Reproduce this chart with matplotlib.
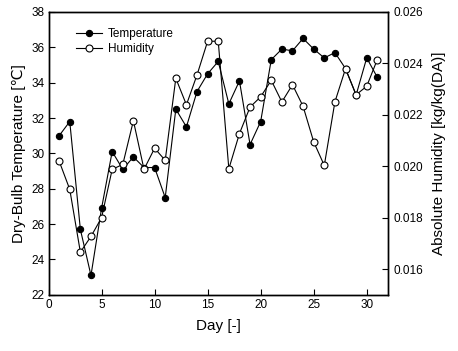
import matplotlib
matplotlib.use("Agg")
import matplotlib.pyplot as plt

plt.rcParams['font.family'] = ['Liberation Sans', 'DejaVu Sans']

days = list(range(1, 32))
temperature = [31.0, 31.8, 25.7, 23.1, 26.9, 30.1, 29.1, 29.8, 29.2, 29.2,
               27.5, 32.5, 31.5, 33.5, 34.5, 35.2, 32.8, 34.1, 30.5, 31.8,
               35.3, 35.9, 35.8, 36.5, 35.9, 35.4, 35.7, 34.8, 33.3, 35.4, 34.3]
humidity = [0.0202, 0.0191, 0.01666, 0.01727, 0.0180, 0.01988, 0.02007, 0.02177,
            0.01988, 0.0207, 0.02023, 0.02342, 0.02239, 0.02355, 0.02486, 0.02486,
            0.0199, 0.02127, 0.0223, 0.0227, 0.02334, 0.0225, 0.02317, 0.02233,
            0.02095, 0.02003, 0.0225, 0.02379, 0.02278, 0.02311, 0.02415]

xticks = [0, 5, 10, 15, 20, 25, 30]
yticks_left = [22, 24, 26, 28, 30, 32, 34, 36, 38]
yticks_right = [0.016, 0.018, 0.020, 0.022, 0.024, 0.026]

fig = plt.figure(figsize=(4.58, 3.51), dpi=100)
ax = fig.add_axes([0.106, 0.160, 0.741, 0.806])
ax2 = ax.twinx()

l1, = ax.plot(days, temperature, color='black', lw=0.8, marker='o', ms=4.5,
              mfc='black', mec='black', mew=0.8, label='Temperature')
l2, = ax2.plot(days, humidity, color='black', lw=0.8, marker='o', ms=5,
               mfc='white', mec='black', mew=0.8, label='Humidity')

ax.set_xlim(0, 32)
ax.set_ylim(22, 38)
ax2.set_ylim(0.015, 0.026)
ax.set_xticks(xticks)
ax.set_yticks(yticks_left)
ax2.set_yticks(yticks_right)
ax2.set_yticklabels([f"{v:.3f}" for v in yticks_right])

for a in (ax, ax2):
    a.tick_params(direction='in', length=4, width=0.8, labelsize=8.5, pad=3)
    for s in a.spines.values():
        s.set_linewidth(1.0)
ax2.tick_params(axis='y', pad=4)

ax.set_xlabel('Day [-]', fontsize=11, labelpad=6)
ax.set_ylabel('Dry-Bulb Temperature [\u2103]', fontsize=11, labelpad=4)
ax2.set_ylabel('Absolute Humidity [kg/kg(DA)]', fontsize=11, labelpad=6)

ax.legend([l1, l2], ['Temperature', 'Humidity'], loc='upper left',
          bbox_to_anchor=(0.05, 0.98), frameon=False, fontsize=8.5,
          handlelength=2.2, handletextpad=0.5, labelspacing=0.25)

fig.savefig('out.png', dpi=100)
